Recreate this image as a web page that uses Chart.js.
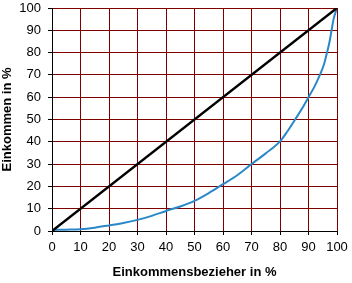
<!DOCTYPE html>
<html>
<head>
<meta charset="utf-8">
<script src="https://cdn.jsdelivr.net/npm/chart.js@4"></script>
<style>
html,body{margin:0;padding:0;background:#fff;}
#wrap{width:352px;height:283px;position:relative;}
</style>
</head>
<body>
<div id="wrap"><canvas id="c" width="352" height="283"></canvas></div>
<script>
// Einkommensbezieher (cumulative share of earners, %)
const earners = [0, 5, 10, 15, 20, 25, 30, 35, 40, 45, 50, 55, 60, 65, 70, 75, 80, 82.5, 85.3, 87.8, 90, 92, 94, 95.5, 96.5, 97.4, 98.1, 98.8, 100];
// Einkommen (cumulative share of income, %) – Lorenz curve
const income = [0.5, 0.6, 0.8, 1.5, 2.5, 3.6, 5, 6.8, 9, 11, 13.5, 17, 21, 25, 30, 34.8, 40.2, 44.5, 50, 55, 60, 64.5, 70, 75, 80, 85, 90, 95, 100];
// line of equal distribution
const equalX = [0, 100];
const equalY = [0, 100];
const tickStep = 10;
const xTitle = 'Einkommensbezieher in %';
const yTitle = 'Einkommen in %';

const toPts = (xs, ys) => xs.map((x, i) => ({x: x, y: ys[i]}));

const tickFont = {family: "'Liberation Sans Narrow','Liberation Sans',Arial,sans-serif", size: 13};
const titleFont = {family: "'Liberation Sans','Arial',sans-serif", size: 13, weight: 'bold'};

const makeGrid = () => ({display: true, drawOnChartArea: true, drawTicks: true, color: '#800000', tickColor: '#000000', lineWidth: 1, tickLength: 4});

new Chart(document.getElementById('c'), {
  type: 'scatter',
  data: {
    datasets: [
      {data: toPts(equalX, equalY), showLine: true, borderColor: '#000000', borderWidth: 2.5, pointRadius: 0},
      {data: toPts(earners, income), showLine: true, borderColor: '#2a88c8', borderWidth: 2, pointRadius: 0, cubicInterpolationMode: 'monotone'}
    ]
  },
  options: {
    responsive: false,
    animation: false,
    devicePixelRatio: 1,
    layout: {padding: {left: 0, right: 15, top: 8, bottom: 0}},
    plugins: {legend: {display: false}, tooltip: {enabled: false}},
    scales: {
      x: {
        type: 'linear', min: 0, max: 100,
        afterFit: (s) => { s.height = 52; s.paddingLeft = 0; s.paddingRight = 0; },
        grid: makeGrid(),
        border: {display: true, color: '#000', width: 1},
        ticks: {color: '#000', font: tickFont, padding: 5, maxRotation: 0, autoSkip: false, stepSize: tickStep},
        title: {display: true, text: xTitle, color: '#000', font: titleFont, padding: {top: 2, bottom: 3}}
      },
      y: {
        type: 'linear', min: 0, max: 100,
        afterFit: (s) => { s.width = 52; s.paddingTop = 0; s.paddingBottom = 0; },
        grid: makeGrid(),
        border: {display: true, color: '#000', width: 1},
        ticks: {color: '#000', font: tickFont, padding: 7, autoSkip: false, stepSize: tickStep},
        title: {display: true, text: yTitle, color: '#000', font: titleFont, padding: {top: 0, bottom: 0}}
      }
    }
  }
});
</script>
</body>
</html>
